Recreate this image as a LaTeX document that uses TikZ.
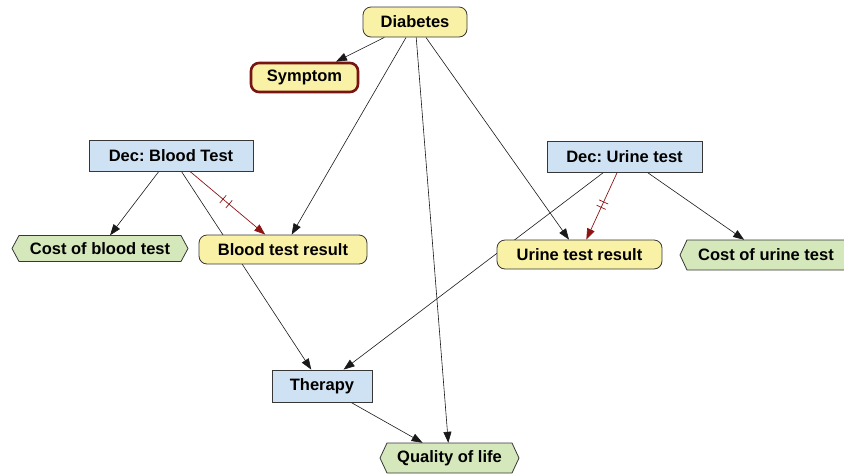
\documentclass[tikz,border=0pt]{standalone}
\usepackage{fontspec}
\setmainfont{Liberation Sans}
\usetikzlibrary{arrows.meta,decorations.markings,backgrounds}
\frenchspacing
\definecolor{yel}{RGB}{249,241,165}
\definecolor{blu}{RGB}{207,226,243}
\definecolor{grn}{RGB}{213,232,187}
\definecolor{bord}{RGB}{55,55,55}
\definecolor{dred}{RGB}{140,20,20}
\definecolor{symb}{RGB}{120,20,20}
\tikzset{
  lbl/.style={font=\bfseries\fontsize{16.5}{18}\selectfont, inner sep=0pt, align=center},
  chance/.style={lbl, draw=bord, fill=yel, rounded corners=8pt, line width=0.8pt},
  decbox/.style={lbl, draw=bord, fill=blu, line width=0.8pt},
  util/.style={lbl},
  hexline/.style={draw=bord, fill=grn, line width=0.8pt},
  edge/.style={draw=black!90, line width=0.6pt, -{Triangle[length=11pt,width=8pt]}},
  tick/.style={draw=dred, line width=0.7pt, arrows=-},
  redge/.style={draw=dred, line width=0.7pt, -{Triangle[length=11pt,width=8pt]},
    postaction={decorate},
    decoration={markings,
      mark=at position 0.44 with {\draw[tick] (0,-5pt) -- (0,5pt);},
      mark=at position 0.52 with {\draw[tick] (0,-5pt) -- (0,5pt);}}}
}
\newcommand\utilnode[6]{%
  \filldraw[hexline] ({#2-#4/2},#3) -- ({#2-#4/2+7},{#3-#5/2}) -- ({#2+#4/2-7},{#3-#5/2})
    -- ({#2+#4/2},#3) -- ({#2+#4/2-7},{#3+#5/2}) -- ({#2-#4/2+7},{#3+#5/2}) -- cycle;
  \node[util, minimum width=#4pt, minimum height=#5pt] (#1) at (#2,#3) {#6};}
\begin{document}
\begin{tikzpicture}[x=1pt,y=-1pt]
\useasboundingbox (0,0) rectangle (844,475);
% chance nodes
\node[chance, minimum width=104pt, minimum height=30pt] (diab) at (415,22) {Diabetes};
\node[chance, draw=symb, line width=2.6pt, minimum width=107pt, minimum height=29pt] (symp) at (304.5,77.5) {Symptom};
\node[chance, minimum width=168pt, minimum height=29pt] (btr) at (283,249.5) {Blood test result};
\node[chance, minimum width=165pt, minimum height=29pt] (utr) at (579.5,254.5) {Urine test result};
% decision nodes
\node[decbox, minimum width=164pt, minimum height=31pt] (dbt) at (171,155.5) {Dec: Blood Test};
\node[decbox, minimum width=155pt, minimum height=31pt] (dut) at (624.5,156.5) {Dec: Urine test};
\node[decbox, minimum width=100pt, minimum height=32pt] (ther) at (322,386) {Therapy};
% utility nodes
\utilnode{cbt}{100}{248.5}{176}{26}{Cost of blood test}
\utilnode{cut}{766}{255}{172}{30}{Cost of urine test}
\utilnode{qol}{449.5}{458}{139}{30}{Quality of life}
% connectors
\begin{scope}[on background layer]
\draw[edge] (diab) -- (symp);
\draw[edge] (diab) -- (btr);
\draw[edge] (diab) -- (qol);
\draw[edge] (diab) -- (utr);
\draw[edge] (dbt) -- (cbt);
\draw[edge] (dbt) -- (ther);
\draw[redge] (dbt) -- (btr);
\draw[redge] (dut) -- (utr);
\draw[edge] (dut) -- (ther);
\draw[edge] (dut) -- (cut);
\draw[edge] (ther) -- (qol);
\end{scope}
\end{tikzpicture}
\end{document}
